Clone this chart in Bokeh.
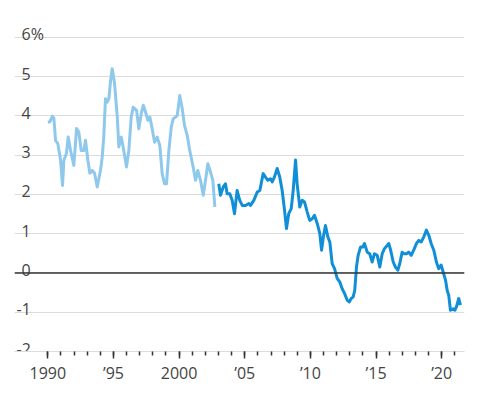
from bokeh.plotting import figure
from bokeh.models import FixedTicker, Range1d, Span
from bokeh.core.properties import value
from bokeh.embed import file_html
from bokeh.resources import INLINE

# Earlier series (light blue)
light_years = [1990.0, 1990.15, 1990.34, 1990.46, 1990.59, 1990.76, 1990.97, 1991.12, 1991.22, 1991.42,
               1991.55, 1991.73, 1991.98, 1992.19, 1992.36, 1992.54, 1992.74, 1992.87, 1993.05, 1993.2,
               1993.38, 1993.56, 1993.76, 1994.01, 1994.14, 1994.26, 1994.39, 1994.52, 1994.65, 1994.78,
               1994.9, 1995.08, 1995.29, 1995.41, 1995.59, 1995.74, 1995.99, 1996.17, 1996.35, 1996.5,
               1996.76, 1996.93, 1997.11, 1997.27, 1997.44, 1997.62, 1997.77, 1997.95, 1998.13, 1998.33,
               1998.53, 1998.71, 1998.89, 1999.04, 1999.22, 1999.4, 1999.55, 1999.73, 1999.86, 2000.05,
               2000.24, 2000.41, 2000.62, 2000.81, 2001.07, 2001.25, 2001.42, 2001.63, 2001.84, 2002.01,
               2002.19, 2002.39, 2002.57, 2002.72]
light_values = [3.84, 3.85, 3.99, 3.94, 3.37, 3.30, 2.87, 2.23, 2.87, 3.05,
                3.46, 3.12, 2.74, 3.68, 3.59, 3.12, 3.12, 3.38, 2.87, 2.54,
                2.61, 2.54, 2.19, 2.61, 2.95, 3.46, 4.44, 4.35, 4.44, 4.90,
                5.20, 4.83, 3.97, 3.21, 3.46, 3.21, 2.70, 3.12, 3.97, 4.22,
                4.14, 3.67, 4.05, 4.27, 4.10, 3.89, 3.97, 3.67, 3.33, 3.46,
                3.25, 2.53, 2.27, 2.27, 3.12, 3.71, 3.93, 3.97, 4.01, 4.52,
                4.18, 3.76, 3.50, 3.12, 2.70, 2.36, 2.61, 2.36, 1.98, 2.36,
                2.78, 2.57, 2.36, 1.68]

# Later series (dark blue)
dark_years = [2003.02, 2003.15, 2003.36, 2003.53, 2003.66, 2003.86, 2004.04, 2004.22, 2004.42, 2004.62,
              2004.81, 2005.06, 2005.31, 2005.44, 2005.69, 2005.95, 2006.15, 2006.4, 2006.58, 2006.76,
              2006.96, 2007.09, 2007.26, 2007.47, 2007.67, 2007.85, 2008.03, 2008.18, 2008.35, 2008.54,
              2008.69, 2008.87, 2008.99, 2009.19, 2009.38, 2009.55, 2009.76, 2009.95, 2010.14, 2010.31,
              2010.52, 2010.72, 2010.85, 2010.99, 2011.15, 2011.33, 2011.48, 2011.66, 2011.84, 2012.04,
              2012.24, 2012.42, 2012.6, 2012.8, 2012.96, 2013.11, 2013.26, 2013.38, 2013.51, 2013.64,
              2013.82, 2013.99, 2014.12, 2014.33, 2014.52, 2014.71, 2014.88, 2015.09, 2015.29, 2015.47,
              2015.64, 2015.85, 2015.97, 2016.1, 2016.31, 2016.48, 2016.66, 2016.81, 2016.99, 2017.11,
              2017.32, 2017.49, 2017.68, 2017.87, 2018.08, 2018.26, 2018.44, 2018.64, 2018.84, 2019.02,
              2019.2, 2019.4, 2019.6, 2019.78, 2019.96, 2020.11, 2020.3, 2020.42, 2020.54, 2020.67,
              2020.88, 2021.0, 2021.13, 2021.3, 2021.43]
dark_values = [2.27, 1.98, 2.19, 2.27, 2.02, 2.02, 1.85, 1.51, 2.10, 1.85,
               1.72, 1.72, 1.77, 1.72, 1.85, 2.06, 2.10, 2.53, 2.44, 2.36,
               2.40, 2.32, 2.44, 2.66, 2.44, 2.10, 1.60, 1.13, 1.51, 1.64,
               2.10, 2.88, 2.27, 1.68, 1.85, 1.81, 1.55, 1.34, 1.38, 1.47,
               1.26, 1.00, 0.58, 0.92, 1.21, 0.92, 0.79, 0.24, 0.11, -0.14,
               -0.23, -0.40, -0.52, -0.69, -0.74, -0.65, -0.61, -0.44, 0.15, 0.45,
               0.66, 0.66, 0.75, 0.53, 0.49, 0.28, 0.49, 0.45, 0.15, 0.49,
               0.62, 0.70, 0.75, 0.60, 0.28, 0.15, 0.07, 0.24, 0.53, 0.49,
               0.49, 0.53, 0.45, 0.58, 0.75, 0.83, 0.79, 0.92, 1.09, 0.96,
               0.75, 0.58, 0.28, 0.11, 0.20, 0.03, -0.19, -0.44, -0.57, -0.95,
               -0.91, -0.95, -0.86, -0.65, -0.82]

y_ticks = [-2, -1, 0, 1, 2, 3, 4, 5, 6]
y_tick_labels = ["-2", "-1", "0", "1", "2", "3", "4", "5", "6%"]
x_ticks = [1990, 1995, 2000, 2005, 2010, 2015, 2020]
x_tick_labels = ["1990", "\u201995", "2000", "\u201905", "\u201910", "\u201915", "\u201920"]
x_minor_ticks = list(range(1990, 2022))

FONT = "Open Sans"
TEXT = "#444444"
GRID = "#dcdcdc"

p = figure(width=486, height=392, output_backend="svg", toolbar_location=None,
           x_range=Range1d(1987.46, 2021.74), y_range=Range1d(-2, 6.43),
           min_border_left=14, min_border_right=22, min_border_top=20, min_border_bottom=41)
p.outline_line_color = None
p.background_fill_color = "white"
p.border_fill_color = "white"

p.yaxis.visible = False
p.ygrid.ticker = FixedTicker(ticks=y_ticks)
p.ygrid.grid_line_color = GRID
p.ygrid.grid_line_width = 1
p.xgrid.grid_line_color = None

ax = p.xaxis[0]
ax.ticker = FixedTicker(ticks=x_ticks, minor_ticks=x_minor_ticks)
ax.major_label_overrides = {t: l for t, l in zip(x_ticks, x_tick_labels)}
ax.axis_line_color = GRID
ax.major_tick_line_color = "#333333"
ax.minor_tick_line_color = "#333333"
ax.major_tick_line_width = 1.5
ax.minor_tick_line_width = 1.5
ax.major_tick_in = 0
ax.major_tick_out = 7
ax.minor_tick_in = 0
ax.minor_tick_out = 4
ax.major_label_standoff = 3
ax.major_label_text_font = FONT
ax.major_label_text_font_size = "16px"
ax.major_label_text_color = TEXT

# zero line
p.add_layout(Span(location=0, dimension="width", line_color="#333333", line_width=1.5))

# y labels sitting above gridlines inside the plot
x0 = p.x_range.start
p.text(x=[x0] * len(y_ticks), y=y_ticks, text=y_tick_labels,
       x_offset=[2 if v < 0 else 7 for v in y_ticks], y_offset=-3,
       text_font=value(FONT), text_font_size="16px", text_color=TEXT,
       text_align="left", text_baseline="alphabetic")

p.line(light_years, light_values, line_color="#8ec8ec", line_width=3, line_join="round")
p.line(dark_years, dark_values, line_color="#118fd6", line_width=3, line_join="round")

open("out.html", "w").write(file_html(p, INLINE))
